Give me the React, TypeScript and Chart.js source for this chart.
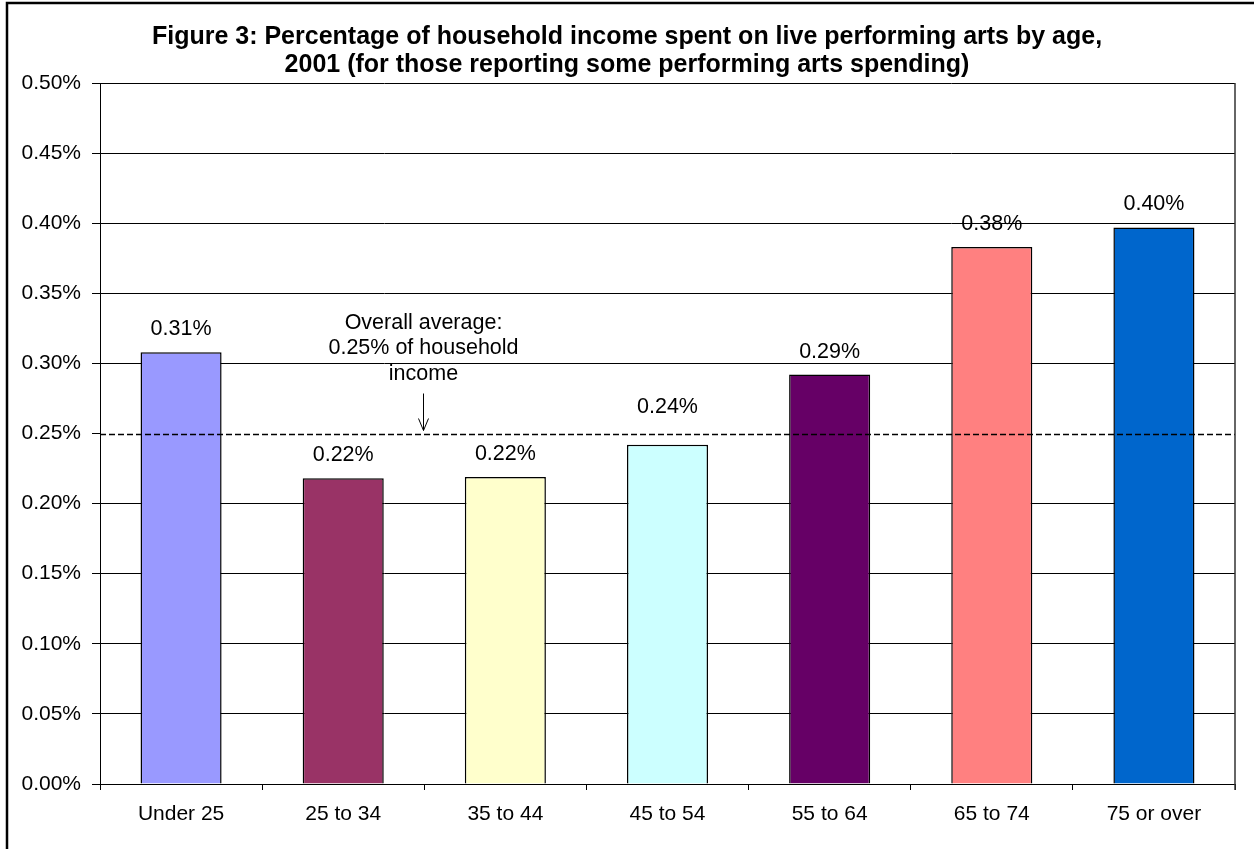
import React, { useEffect, useRef } from "react";
import { Chart, registerables } from "chart.js";

Chart.register(...registerables);

const categories = ["Under 25", "25 to 34", "35 to 44", "45 to 54", "55 to 64", "65 to 74", "75 or over"];
const values = [0.308, 0.218, 0.219, 0.242, 0.292, 0.383, 0.397];
const barColors = ["#9999FF", "#993366", "#FFFFCC", "#CCFFFF", "#660066", "#FF8080", "#0066CC"];
const overallAverage = 0.25;
const titleLines = [
  "Figure 3: Percentage of household income spent on live performing arts by age,",
  "2001 (for those reporting some performing arts spending)",
];
const annotationLines = ["Overall average:", "0.25% of household", "income"];
const yMin = 0;
const yMax = 0.5;
const yStep = 0.05;

const FONT = '"Liberation Sans", Arial, Helvetica, sans-serif';

const overlayPlugin = {
  id: "overlay",
  afterDatasetsDraw(chart: any) {
    const { ctx, chartArea, scales } = chart;
    const xs = scales.x;
    const ys = scales.y;
    const avgY = Math.round(ys.getPixelForValue(overallAverage)) + 0.5;

    ctx.save();
    // dashed average line
    ctx.strokeStyle = "#000";
    ctx.lineWidth = 1.6;
    ctx.setLineDash([6, 3]);
    ctx.beginPath();
    ctx.moveTo(chartArea.left, avgY);
    ctx.lineTo(chartArea.right, avgY);
    ctx.stroke();
    ctx.setLineDash([]);

    // data labels
    ctx.fillStyle = "#000";
    ctx.font = `21.5px ${FONT}`;
    ctx.textAlign = "center";
    ctx.textBaseline = "middle";
    values.forEach((v, i) => {
      const anchor = v < overallAverage && overallAverage - v < 0.015 ? overallAverage : v;
      const extra = anchor !== v ? 3 : 0;
      const x = xs.getPixelForValue(i);
      const y = ys.getPixelForValue(anchor) - 23 - extra;
      ctx.fillText((Math.round(v * 100) / 100).toFixed(2) + "%", x, y);
    });

    // annotation
    const ax = Math.round((xs.getPixelForValue(1) + xs.getPixelForValue(2)) / 2) - 0.5;
    const offsets = [111, 86, 60];
    annotationLines.forEach((t, i) => {
      ctx.fillText(t, ax, avgY - offsets[i]);
    });
    ctx.lineWidth = 1;
    ctx.beginPath();
    ctx.moveTo(ax, avgY - 41);
    ctx.lineTo(ax, avgY - 4);
    ctx.moveTo(ax - 5, avgY - 16);
    ctx.lineTo(ax, avgY - 4);
    ctx.lineTo(ax + 5, avgY - 16);
    ctx.stroke();

    // plot area right border
    ctx.strokeStyle = "#333";
    ctx.lineWidth = 1.5;
    ctx.beginPath();
    ctx.moveTo(chartArea.right, chartArea.top);
    ctx.lineTo(chartArea.right, chartArea.bottom + 6);
    ctx.stroke();
    ctx.restore();
  },
  afterDraw(chart: any) {
    const { ctx, width, height } = chart;
    ctx.save();
    // title
    ctx.fillStyle = "#000";
    ctx.font = `bold 25px ${FONT}`;
    ctx.textAlign = "center";
    ctx.textBaseline = "alphabetic";
    titleLines.forEach((t, i) => {
      ctx.fillText(t, width / 2, 44 + i * 27.5);
    });
    // outer frame
    ctx.strokeStyle = "#000";
    ctx.lineWidth = 2.5;
    ctx.beginPath();
    ctx.moveTo(width + 5, 3);
    ctx.lineTo(7, 3);
    ctx.lineTo(7, height + 5);
    ctx.stroke();
    ctx.restore();
  },
};

export default function App() {
  const canvasRef = useRef<HTMLCanvasElement | null>(null);

  useEffect(() => {
    const canvas = canvasRef.current;
    if (!canvas) return;
    const chart = new Chart(canvas, {
      type: "bar",
      data: {
        labels: categories,
        datasets: [
          {
            data: values,
            backgroundColor: barColors,
            borderColor: "#000",
            borderWidth: 1.5,
            barPercentage: 0.5,
            categoryPercentage: 1,
          },
        ],
      },
      options: {
        animation: false,
        responsive: false,
        maintainAspectRatio: false,
        devicePixelRatio: 1,
        layout: { padding: { top: 83, right: 19, left: 0, bottom: 0 } },
        plugins: {
          legend: { display: false },
          title: { display: false },
          tooltip: { enabled: false },
        },
        scales: {
          x: {
            afterFit: (s: any) => {
              s.height = 65;
            },
            grid: {
              display: true,
              drawOnChartArea: false,
              drawTicks: true,
              tickLength: 6,
              color: "#000",
              offset: true,
            },
            border: { display: true, color: "#000", width: 1 },
            ticks: {
              color: "#000",
              font: { family: FONT, size: 21 },
              padding: 12,
              maxRotation: 0,
              autoSkip: false,
            },
          },
          y: {
            min: yMin,
            max: yMax,
            afterFit: (s: any) => {
              s.width = 100;
            },
            grid: {
              color: (c: any) =>
                c.tick && Math.abs(c.tick.value - overallAverage) < 1e-9 ? "rgba(0,0,0,0)" : "#000",
              tickColor: "#000",
              lineWidth: 1,
              drawTicks: true,
              tickLength: 8,
            },
            border: { display: true, color: "#000", width: 1 },
            ticks: {
              stepSize: yStep,
              color: "#000",
              font: { family: FONT, size: 21 },
              padding: 11,
              callback: (v: any) => Number(v).toFixed(2) + "%",
            },
          },
        },
      },
      plugins: [overlayPlugin],
    });
    return () => chart.destroy();
  }, []);

  return (
    <div style={{ position: "absolute", left: 0, top: 0, width: 1254, height: 849, background: "#fff" }}>
      <canvas ref={canvasRef} width={1254} height={849} style={{ display: "block", width: 1254, height: 849 }} />
    </div>
  );
}
